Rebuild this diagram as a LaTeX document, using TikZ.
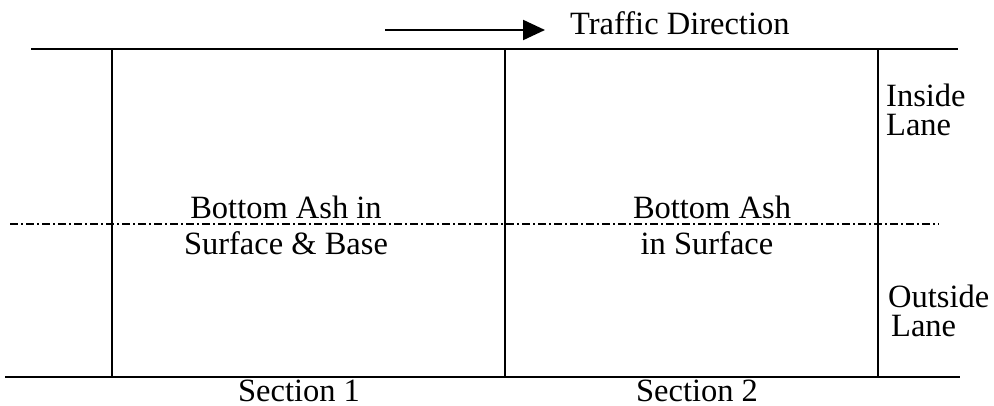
\documentclass[tikz,border=0pt]{standalone}
\usepackage{fontspec}
\setmainfont{Liberation Serif}
\usetikzlibrary{arrows.meta}
\begin{document}
\begin{tikzpicture}[x=1pt,y=-1pt,
  road/.style={line width=2pt,black},
  lanedivide/.style={line width=1.5pt,black,dash pattern=on 8pt off 3pt on 2pt off 3pt},
  lbl/.style={inner sep=0pt,font=\fontsize{32.5}{38}\selectfont},
  flow/.style={line width=2.2pt,-{Triangle[length=22pt,width=20pt]}}]
  \useasboundingbox (0,0) rectangle (994,406);

  % road edges and section boundaries
  \coordinate (tl) at (31,49);
  \coordinate (tr) at (958,49);
  \coordinate (bl) at (5,377);
  \coordinate (br) at (960,377);
  \coordinate (s0t) at (112,49);  \coordinate (s0b) at (112,377);
  \coordinate (s1t) at (505,49);  \coordinate (s1b) at (505,377);
  \coordinate (s2t) at (878,49);  \coordinate (s2b) at (878,377);
  \coordinate (ml) at (10,224);
  \coordinate (mr) at (939,224);

  \draw[road] (tl) -- (tr);
  \draw[road] (bl) -- (br);
  \draw[road] (s0t) -- (s0b);
  \draw[road] (s1t) -- (s1b);
  \draw[road] (s2t) -- (s2b);
  \draw[lanedivide] (ml) -- (mr);

  % traffic direction
  \coordinate (a0) at (385,30);
  \coordinate (a1) at (545,30);
  \draw[flow] (a0) -- (a1);
  \node[lbl,anchor=base west] (traffic) at (570,35) {Traffic Direction};

  % section contents
  \node[lbl,anchor=base] (c1a) at (286,219) {Bottom Ash in};
  \node[lbl,anchor=base] (c1b) at (286,255) {Surface \& Base};
  \node[lbl,anchor=base] (c2a) at (712,219) {Bottom Ash};
  \node[lbl,anchor=base] (c2b) at (707,255) {in Surface};

  % lane labels
  \node[lbl,anchor=base west] (in1) at (886,107) {Inside};
  \node[lbl,anchor=base west] (in2) at (886,136) {Lane};
  \node[lbl,anchor=base west] (out1) at (888,308) {Outside};
  \node[lbl,anchor=base west] (out2) at (891,337) {Lane};

  % section names
  \node[lbl,anchor=base] (sec1) at (299,401) {Section 1};
  \node[lbl,anchor=base] (sec2) at (697,401) {Section 2};
\end{tikzpicture}
\end{document}
